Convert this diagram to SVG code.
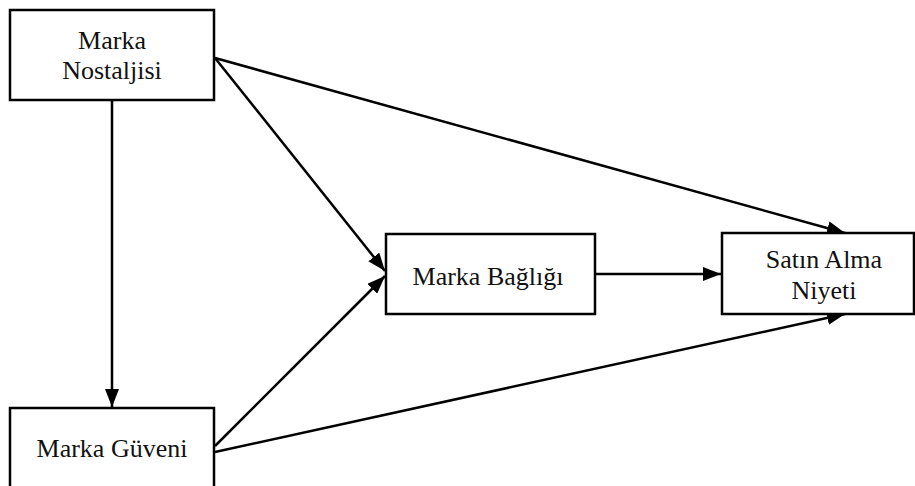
<svg xmlns="http://www.w3.org/2000/svg" width="915" height="486" viewBox="0 0 915 486">
<style>
.box{fill:#fff;stroke:#000;stroke-width:2.5}
.t{font-family:"Liberation Serif","Times New Roman",serif;font-size:26px;fill:#111;text-anchor:middle}
.c{stroke:#000;stroke-width:2.5;fill:none;marker-end:url(#ah)}
</style>
<defs>
<marker id="ah" markerUnits="userSpaceOnUse" markerWidth="18" markerHeight="14" viewBox="0 0 18 14" refX="18" refY="7" orient="auto">
<path d="M0,0 L18,7 L0,14 Z" fill="#000"/>
</marker>
</defs>
<rect width="915" height="486" fill="#fff"/>
<g id="connectors">
<line class="c" x1="112" y1="100" x2="112" y2="407"/>
<line class="c" x1="215" y1="58" x2="385" y2="271"/>
<line class="c" x1="215" y1="58" x2="845" y2="233"/>
<line class="c" x1="215" y1="446" x2="385" y2="276"/>
<line class="c" x1="215" y1="452" x2="845" y2="314"/>
<line class="c" x1="595" y1="274" x2="721" y2="274"/>
</g>
<g id="marka-nostaljisi">
<rect class="box" x="10" y="10" width="204" height="90"/>
<text class="t" x="112" y="49">Marka</text>
<text class="t" x="112" y="79">Nostaljisi</text>
</g>
<g id="marka-guveni">
<rect class="box" x="10" y="408" width="204" height="90"/>
<text class="t" x="112" y="457">Marka Güveni</text>
</g>
<g id="marka-bagligi">
<rect class="box" x="386" y="234" width="209" height="80"/>
<text class="t" x="488" y="285">Marka Bağlığı</text>
</g>
<g id="satin-alma-niyeti">
<rect class="box" x="722" y="233" width="192" height="81"/>
<text class="t" x="824" y="268">Satın Alma</text>
<text class="t" x="824" y="299">Niyeti</text>
</g>
</svg>
